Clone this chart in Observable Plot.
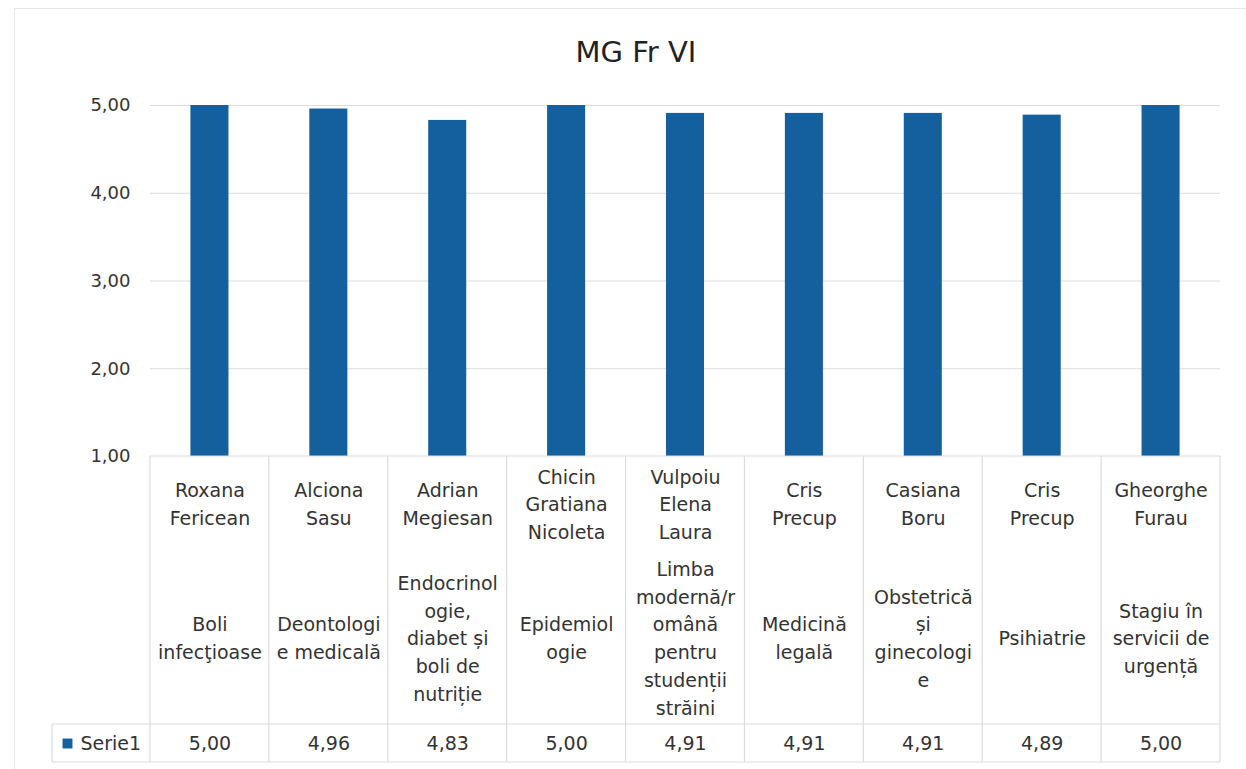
<!DOCTYPE html>
<html>
<head>
<meta charset="utf-8">
<script src="https://cdn.jsdelivr.net/npm/d3@7"></script>
<script src="https://cdn.jsdelivr.net/npm/@observablehq/plot@0.6"></script>
<style>
  html, body { margin: 0; padding: 0; background: #fff; }
  body { width: 1246px; height: 769px; position: relative; overflow: hidden; font-family: "DejaVu Sans", sans-serif; }
  #frame { position: absolute; left: 14px; top: 8px; right: -2px; bottom: -2px; border-top: 1px solid #e6e6e6; border-left: 1px solid #e6e6e6; pointer-events: none; }
  #title { box-sizing: border-box; height: 80px; padding-top: 38px; padding-left: 26px; text-align: center; font-size: 29px; line-height: 29px; color: #222; }
  #chart svg { display: block; }
</style>
</head>
<body>
<div id="frame"></div>
<div id="title">MG Fr VI</div>
<div id="chart"></div>
<script>
const teachers = ["Roxana\nFericean", "Alciona\nSasu", "Adrian\nMegiesan", "Chicin\nGratiana\nNicoleta", "Vulpoiu\nElena\nLaura", "Cris\nPrecup", "Casiana\nBoru", "Cris\nPrecup", "Gheorghe\nFurau"];
const subjects = ["Boli\ninfecţioase", "Deontologi\ne medicală", "Endocrinol\nogie,\ndiabet și\nboli de\nnutriție", "Epidemiol\nogie", "Limba\nmodernă/r\nomână\npentru\nstudenții\nstrăini", "Medicină\nlegală", "Obstetrică\nși\nginecologi\ne", "Psihiatrie", "Stagiu în\nservicii de\nurgență"];
const values = [5.00, 4.96, 4.83, 5.00, 4.91, 4.91, 4.91, 4.89, 5.00];
const seriesName = "Serie1";
const yTicks = [1, 2, 3, 4, 5];

(function () {
const data = teachers.map((t, i) => ({key: String(i), teacher: t, subject: subjects[i], value: values[i]}));
const keys = data.map(d => d.key);
const fmt = v => v.toFixed(2).replace(".", ",");
const blue = "#14609f";
const grid = "#dcdcdc";
const textColor = "#333";

const plot = Plot.plot({
  width: 1246,
  height: 689,
  marginTop: 25,
  marginBottom: 313,
  marginLeft: 150,
  marginRight: 26,
  style: {fontFamily: "DejaVu Sans, sans-serif", color: textColor, background: "transparent", overflow: "visible"},
  x: {domain: keys, type: "band", paddingInner: 0.68, paddingOuter: 0.34, round: false, axis: null},
  y: {domain: [1, 5], nice: false},
  marks: [
    Plot.gridY(yTicks.slice(1), {stroke: grid, strokeOpacity: 1}),
    Plot.axisY(yTicks, {tickFormat: fmt, tickSize: 0, tickPadding: 20, fontSize: 18, label: null, fill: textColor}),
    Plot.barY(data, {x: "key", y1: () => 1, y2: "value", fill: blue}),
    Plot.text(data, {x: "key", y: () => 1, dy: 46, text: "teacher", fontSize: 19, lineHeight: 1.47, lineAnchor: "middle", fill: textColor}),
    Plot.text(data, {x: "key", y: () => 1, dy: 180, text: "subject", fontSize: 19, lineHeight: 1.47, lineAnchor: "middle", fill: textColor}),
    Plot.text(data, {x: "key", y: () => 1, dy: 287, text: d => fmt(d.value), fontSize: 19, lineAnchor: "middle", fill: textColor}),
    Plot.text([seriesName], {y: () => 1, frameAnchor: "left", dx: -70, dy: 287, text: d => d, textAnchor: "start", fontSize: 19, lineAnchor: "middle", fill: textColor}),
    Plot.dot([seriesName], {y: () => 1, frameAnchor: "left", dx: -83, dy: 287, symbol: "square", r: 5.6, fill: blue, stroke: "none"})
  ]
});
document.getElementById("chart").appendChild(plot);

// data-table grid drawn from the plot's own scales
const sx = plot.scale("x"), sy = plot.scale("y");
const gap = (sx.step - sx.bandwidth) / 2;
const bounds = keys.map(k => sx.apply(k) - gap);
bounds.push(sx.apply(keys[keys.length - 1]) + sx.bandwidth + gap);
const tableTop = sy.apply(1);
const rowSplit = tableTop + 268;
const tableBottom = tableTop + 306;
const legendLeft = 52;
const right = bounds[bounds.length - 1];
const g = d3.select(plot).append("g").attr("stroke", grid).attr("stroke-width", 1.2).attr("fill", "none");
g.append("line").attr("x1", bounds[0]).attr("x2", right).attr("y1", tableTop).attr("y2", tableTop);
g.append("line").attr("x1", legendLeft).attr("x2", right).attr("y1", rowSplit).attr("y2", rowSplit);
g.append("line").attr("x1", legendLeft).attr("x2", right).attr("y1", tableBottom).attr("y2", tableBottom);
g.append("line").attr("x1", legendLeft).attr("x2", legendLeft).attr("y1", rowSplit).attr("y2", tableBottom);
bounds.forEach(b => g.append("line").attr("x1", b).attr("x2", b).attr("y1", tableTop).attr("y2", tableBottom));
})();
</script>
</body>
</html>
